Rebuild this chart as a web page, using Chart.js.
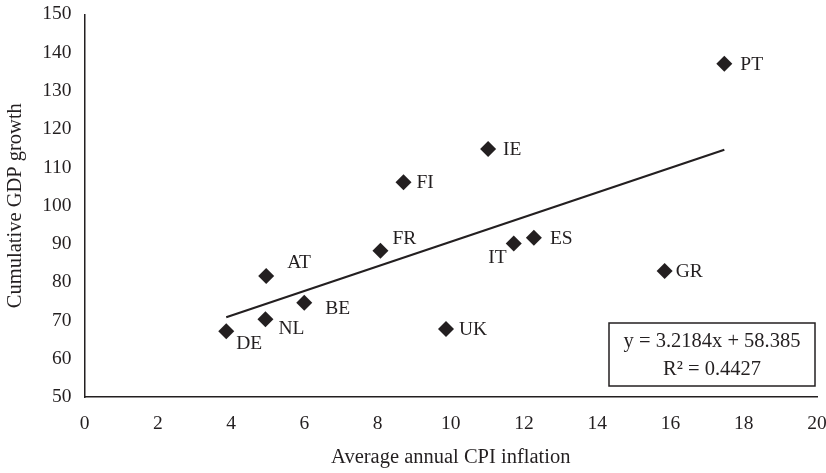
<!DOCTYPE html>
<html>
<head>
<meta charset="utf-8">
<script src="https://cdn.jsdelivr.net/npm/chart.js@4.4.1/dist/chart.umd.min.js"></script>
<style>
  html, body { margin: 0; padding: 0; background: #fff; }
  #wrap { width: 826px; height: 473px; }
</style>
</head>
<body>
<div id="wrap"><canvas id="c" width="826" height="473"></canvas></div>
<script>
// Countries, average annual CPI inflation (%) and cumulative GDP growth (%)
const countries = ['DE', 'NL', 'AT', 'BE', 'FR', 'FI', 'UK', 'IE', 'IT', 'ES', 'GR', 'PT'];
const inflation = [3.87, 4.94, 4.96, 6.0, 8.08, 8.71, 9.87, 11.02, 11.72, 12.27, 15.84, 17.47];
const gdpGrowth = [67.2, 70.3, 81.6, 74.6, 88.2, 106.1, 67.8, 114.8, 90.1, 91.6, 82.9, 137.1];

// Linear fit as reported in the equation box
const slope = 3.2184;
const intercept = 58.385;
const rSquared = '0.4427';

// Axis ranges
const xTicks = { min: 0, max: 20, step: 2 };
const yTicks = { min: 50, max: 150, step: 10 };

// Label placement relative to each marker: [dx, dy, align]
const labelOffsets = {
  DE: [10, 13, 'left'], NL: [13, 10, 'left'], AT: [21, -13, 'left'], BE: [21, 6, 'left'],
  FR: [12, -12, 'left'], FI: [13, 1, 'left'], UK: [13, 1, 'left'], IE: [15, 1, 'left'],
  IT: [-7, 14, 'right'], ES: [16, 1, 'left'], GR: [11, 1, 'left'], PT: [16, 1, 'left']
};

const INK = '#231f20';
const FONT = '"Liberation Serif", "DejaVu Serif", serif';
const FSIZE = 19.5;
const TSIZE = 20.5;

const points = countries.map((c, i) => ({ x: inflation[i], y: gdpGrowth[i] }));
const xMin = Math.min(...inflation), xMax = Math.max(...inflation);
const fitLine = [
  { x: xMin, y: slope * xMin + intercept },
  { x: xMax, y: slope * xMax + intercept }
];

const pointLabels = {
  id: 'pointLabels',
  afterDatasetsDraw(chart) {
    const { ctx, scales: { x, y } } = chart;
    ctx.save();
    ctx.fillStyle = INK;
    ctx.font = `${FSIZE}px ${FONT}`;
    ctx.textBaseline = 'middle';
    countries.forEach((c, i) => {
      const [dx, dy, align] = labelOffsets[c];
      ctx.textAlign = align;
      ctx.fillText(c, x.getPixelForValue(inflation[i]) + dx, y.getPixelForValue(gdpGrowth[i]) + dy);
    });
    ctx.restore();
  }
};

const equationBox = {
  id: 'equationBox',
  afterDraw(chart) {
    const { ctx, chartArea: a } = chart;
    const w = 206, h = 63;
    const right = a.right - 2, bottom = a.bottom - 11;
    const left = right - w, top = bottom - h;
    ctx.save();
    ctx.fillStyle = '#fff';
    ctx.fillRect(left, top, w, h);
    ctx.strokeStyle = INK;
    ctx.lineWidth = 1.5;
    ctx.strokeRect(left, top, w, h);
    ctx.fillStyle = INK;
    ctx.font = `${TSIZE}px ${FONT}`;
    ctx.textAlign = 'center';
    ctx.textBaseline = 'middle';
    const cx = left + w / 2;
    ctx.fillText(`y = ${slope}x + ${intercept}`, cx, top + 19);
    ctx.fillText(`R² = ${rSquared}`, cx, top + 47);
    ctx.restore();
  }
};

new Chart(document.getElementById('c'), {
  type: 'scatter',
  data: {
    datasets: [
      {
        label: 'Countries',
        data: points,
        pointStyle: 'rectRot',
        pointRadius: 8,
        pointHoverRadius: 8,
        backgroundColor: INK,
        borderColor: INK,
        borderWidth: 0,
        order: 1
      },
      {
        type: 'line',
        label: 'Linear fit',
        data: fitLine,
        borderColor: INK,
        borderWidth: 2.2,
        pointRadius: 0,
        fill: false,
        order: 2
      }
    ]
  },
  options: {
    responsive: false,
    animation: false,
    events: [],
    layout: { padding: { top: 14.3, right: 9, left: 0, bottom: 0 } },
    plugins: { legend: { display: false }, tooltip: { enabled: false } },
    scales: {
      x: {
        type: 'linear',
        min: xTicks.min, max: xTicks.max,
        afterFit: s => { s.height = 76; s.paddingLeft = 0; s.paddingRight = 0; },
        grid: { display: false, drawOnChartArea: false, tickLength: 7, tickColor: INK, tickWidth: 1.3 },
        border: { color: INK, width: 1.5 },
        ticks: { stepSize: xTicks.step, color: INK, font: { family: FONT, size: FSIZE }, padding: 8, maxRotation: 0 },
        title: { display: true, text: 'Average annual CPI inflation', color: INK, font: { family: FONT, size: TSIZE }, padding: { top: 4, bottom: 3 } }
      },
      y: {
        type: 'linear',
        min: yTicks.min, max: yTicks.max,
        afterFit: s => { s.width = 84.5; s.paddingTop = 0; s.paddingBottom = 0; },
        grid: { display: false, drawOnChartArea: false, tickLength: 7, tickColor: INK, tickWidth: 1.3 },
        border: { color: INK, width: 1.5 },
        ticks: { stepSize: yTicks.step, color: INK, font: { family: FONT, size: FSIZE }, padding: 6 },
        title: { display: true, text: 'Cumulative GDP growth', color: INK, font: { family: FONT, size: TSIZE }, padding: { top: 3.5, bottom: 2 } }
      }
    }
  },
  plugins: [pointLabels, equationBox]
});
</script>
</body>
</html>
